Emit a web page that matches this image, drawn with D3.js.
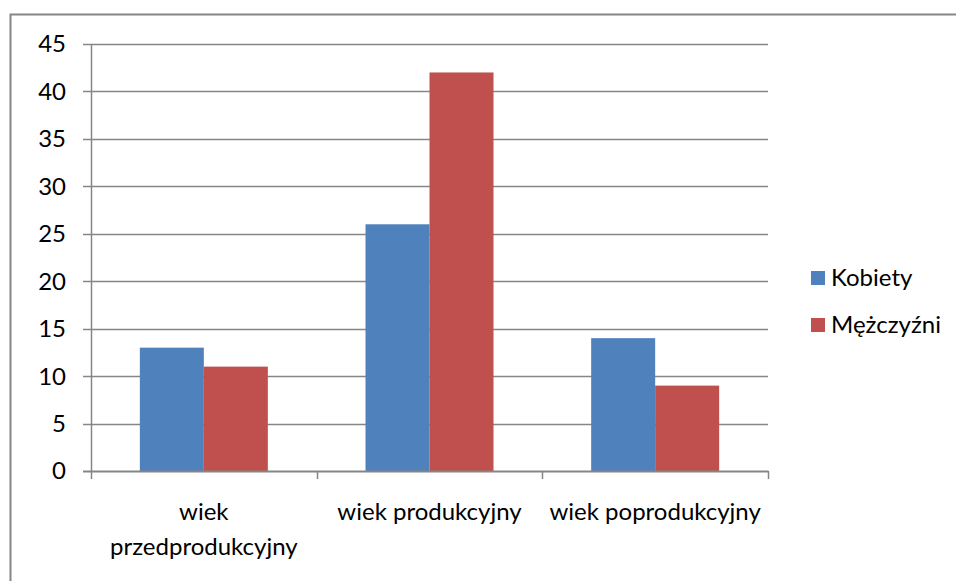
<!DOCTYPE html>
<html>
<head>
<meta charset="utf-8">
<script src="https://cdn.jsdelivr.net/npm/d3@7"></script>
<style>
  html, body { margin: 0; padding: 0; background: #fff; }
  svg { display: block; }
  text { font-family: Lato, "Open Sans", sans-serif; fill: #000; }
</style>
</head>
<body>
<svg id="chart" width="956" height="581"></svg>
<script>
const categories = [["wiek", "przedprodukcyjny"], ["wiek produkcyjny"], ["wiek poprodukcyjny"]];
const seriesNames = ["Kobiety", "Mężczyźni"];
const kobiety = [13, 26, 14];
const mezczyzni = [11, 42, 9];
const yTicks = [0, 5, 10, 15, 20, 25, 30, 35, 40, 45];
const colors = ["#4F81BD", "#C0504D"];

(function () {
const svg = d3.select("#chart");
const fontSize = 24;

// outer border (extends beyond the right and bottom edges)
svg.append("rect")
  .attr("x", 10.5).attr("y", 14.5)
  .attr("width", 1000).attr("height", 1000)
  .attr("fill", "none").attr("stroke", "#868686").attr("stroke-width", 2);

const pLeft = 91, pRight = 768, pTop = 44, pBottom = 471;
const y = d3.scaleLinear().domain([0, 45]).range([pBottom, pTop]);
const x0 = d3.scaleBand().domain(d3.range(categories.length)).range([pLeft, pRight]).paddingInner(0).paddingOuter(0);
const groupW = 128 / 225.67 * x0.bandwidth();
const x1 = d3.scaleBand().domain(d3.range(seriesNames.length)).range([0, groupW]);

// gridlines
svg.selectAll("line.g").data(yTicks.filter(d => d > 0)).enter().append("line")
  .attr("x1", pLeft - 8).attr("x2", pRight)
  .attr("y1", d => Math.round(y(d)) + 0.5).attr("y2", d => Math.round(y(d)) + 0.5)
  .attr("stroke", "#868686").attr("stroke-width", 1.5);

// bars
const values = [kobiety, mezczyzni];
categories.forEach((c, i) => {
  const gx = x0(i) + (x0.bandwidth() - groupW) / 2;
  values.forEach((vals, s) => {
    svg.append("rect")
      .attr("x", gx + x1(s))
      .attr("y", y(vals[i]))
      .attr("width", x1.bandwidth())
      .attr("height", pBottom - y(vals[i]))
      .attr("fill", colors[s]);
  });
});

// y axis line
svg.append("line").attr("x1", pLeft + 0.5).attr("x2", pLeft + 0.5)
  .attr("y1", pTop).attr("y2", pBottom)
  .attr("stroke", "#868686").attr("stroke-width", 1.5);
// x axis line
svg.append("line").attr("x1", pLeft - 8).attr("x2", pRight + 0.5)
  .attr("y1", pBottom + 0.5).attr("y2", pBottom + 0.5)
  .attr("stroke", "#868686").attr("stroke-width", 2);
// x ticks at category boundaries
const bounds = d3.range(categories.length + 1).map(i => pLeft + i * x0.bandwidth());
svg.selectAll("line.xt").data(bounds).enter().append("line")
  .attr("x1", d => Math.round(d) + 0.5).attr("x2", d => Math.round(d) + 0.5)
  .attr("y1", pBottom).attr("y2", pBottom + 8)
  .attr("stroke", "#868686").attr("stroke-width", 1.5);

// y tick labels
svg.selectAll("text.yl").data(yTicks).enter().append("text")
  .attr("x", 66).attr("y", d => y(d))
  .attr("dy", "0.35em")
  .attr("text-anchor", "end")
  .attr("font-size", fontSize)
  .text(d => d);

// x category labels
categories.forEach((lines, i) => {
  const cx = x0(i) + x0.bandwidth() / 2;
  const t = svg.append("text").attr("text-anchor", "middle").attr("font-size", fontSize);
  lines.forEach((ln, j) => {
    t.append("tspan").attr("x", cx).attr("y", 520 + j * 35).text(ln);
  });
});

// legend
const legY = [271, 318];
seriesNames.forEach((n, s) => {
  svg.append("rect").attr("x", 811).attr("y", legY[s]).attr("width", 14).attr("height", 14).attr("fill", colors[s]);
  svg.append("text").attr("x", 831).attr("y", legY[s] + 7).attr("dy", "0.35em")
    .attr("font-size", fontSize).text(n);
});
})();
</script>
</body>
</html>
